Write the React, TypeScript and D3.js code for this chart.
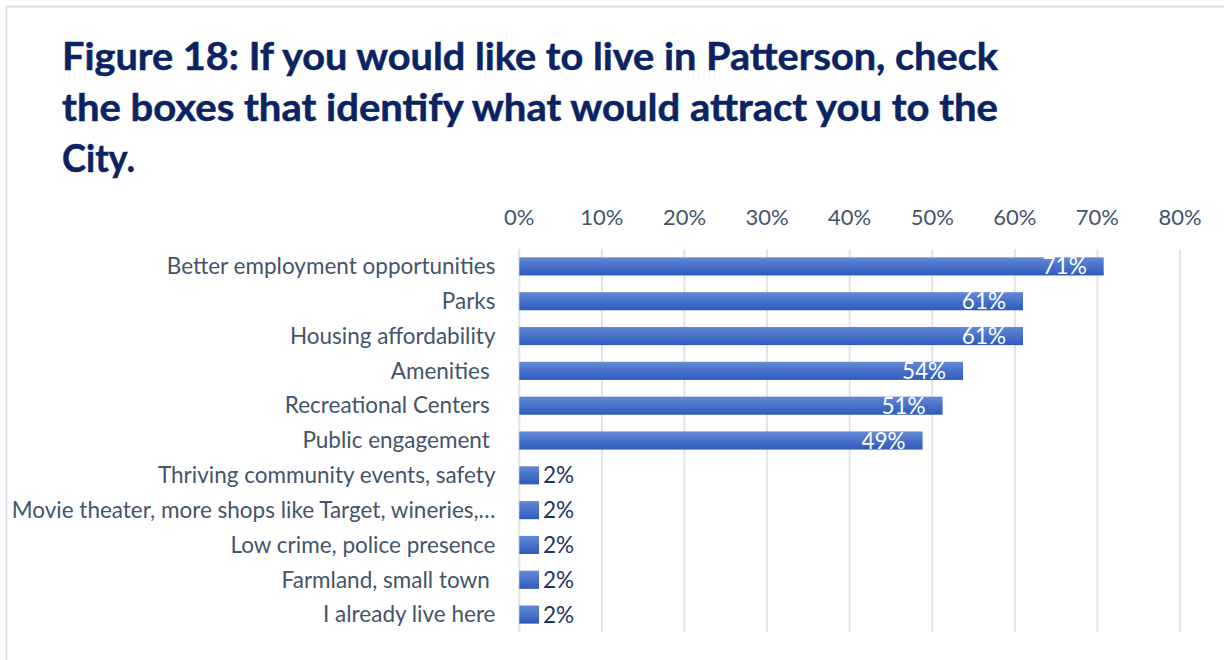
import React from "react";
import * as d3 from "d3";

const titleLines = [
  "Figure 18: If you would like to live in Patterson, check",
  "the boxes that identify what would attract you to the",
  "City.",
];

const categories = [
  "Better employment opportunities",
  "Parks",
  "Housing affordability",
  "Amenities ",
  "Recreational Centers ",
  "Public engagement ",
  "Thriving community events, safety",
  "Movie theater, more shops like Target, wineries,…",
  "Low crime, police presence",
  "Farmland, small town ",
  "I already live here",
];

const values = [0.7076, 0.6099, 0.6099, 0.5373, 0.5125, 0.4883, 0.0239, 0.0239, 0.0239, 0.0239, 0.0239];

const tickValues = [0, 0.1, 0.2, 0.3, 0.4, 0.5, 0.6, 0.7, 0.8];

const W = 1224;
const H = 660;

export default function App() {
  const x = d3.scaleLinear().domain([0, 0.8]).range([519.3, 1180]);
  const y = d3.scaleBand<string>().domain(categories).range([249, 632]).paddingInner(0.48).paddingOuter(0.24);
  const pct = d3.format(".0%");
  const font = "Lato, 'Open Sans', sans-serif";
  const textColor = "#44546a";
  const insideThreshold = 0.3;

  return (
    <svg
      width={W}
      height={H}
      style={{ position: "absolute", left: 0, top: 0, background: "#fff" }}
      xmlSpace="preserve"
    >
      <defs>
        <linearGradient id="barGrad" x1="0" y1="0" x2="0" y2="1">
          <stop offset="0" stopColor="#6388d6" />
          <stop offset="1" stopColor="#2d5abc" />
        </linearGradient>
      </defs>
      <rect x={6.5} y={6.5} width={W + 20} height={H + 20} fill="#fff" stroke="#dde1e7" strokeWidth={2} />

      {titleLines.map((t, i) => (
        <text
          key={i}
          x={62}
          y={70 + i * 51.2}
          fontFamily={font}
          fontWeight={700}
          fontSize={38}
          fill="#0a2463"
          stroke="#0a2463"
          strokeWidth={0.5}
          textLength={i < 2 ? 936 : 73}
          lengthAdjust="spacingAndGlyphs"
        >
          {t}
        </text>
      ))}

      {tickValues.map((t) => (
        <g key={t}>
          <line x1={x(t)} x2={x(t)} y1={249} y2={632} stroke="#dfe3ea" strokeWidth={2} />
          <text
            x={x(t)}
            y={225}
            textAnchor="middle"
            fontFamily={font}
            fontSize={22}
            fill={textColor}
          >
            {pct(t)}
          </text>
        </g>
      ))}

      {categories.map((c, i) => {
        const v = values[i];
        const by = y(c)!;
        const bh = y.bandwidth();
        const cy = by + bh / 2;
        const inside = v > insideThreshold;
        return (
          <g key={c}>
            <text
              x={495.5}
              y={cy + 7.8}
              textAnchor="end"
              fontFamily={font}
              fontSize={22.5}
              fill={textColor}
              style={{ whiteSpace: "pre" }}
            >
              {c}
            </text>
            <rect x={x(0)} y={by} width={x(v) - x(0)} height={bh} fill="url(#barGrad)" />
            <text
              x={inside ? x(v) - 17 : x(v) + 4}
              y={cy + 8}
              textAnchor={inside ? "end" : "start"}
              fontFamily={font}
              fontSize={22.5}
              fill={inside ? "#ffffff" : "#1f3468"}
            >
              {pct(v)}
            </text>
          </g>
        );
      })}
    </svg>
  );
}
